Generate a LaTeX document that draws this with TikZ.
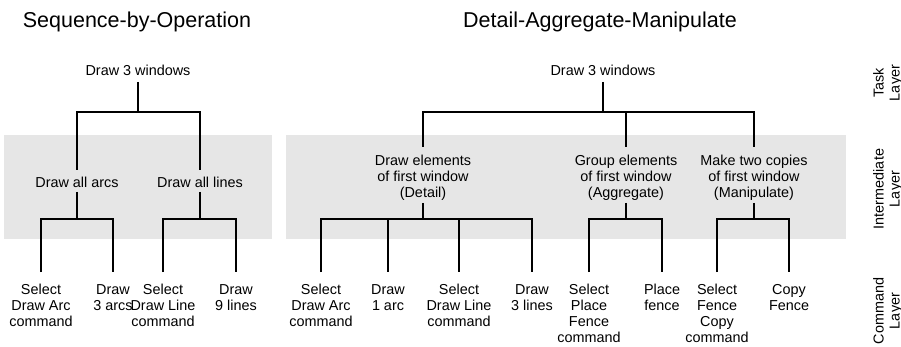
\documentclass[tikz,border=0pt]{standalone}
\usepackage{fontspec}
\setmainfont{Liberation Sans}
\definecolor{band}{HTML}{E6E6E6}
\begin{document}
\begin{tikzpicture}[x=1pt,y=-1pt,
  lbl/.style={font=\fontsize{14.4}{16}\selectfont, align=center, inner sep=0pt, anchor=north},
  ttl/.style={font=\fontsize{21.5}{25}\selectfont, inner sep=0pt, anchor=base},
  layerlbl/.style={font=\fontsize{14.4}{16}\selectfont, align=center, inner sep=0pt, rotate=90},
  conn/.style={line width=1.1pt, black}]
\useasboundingbox (0,0) rectangle (901,347);
% bands
\fill[band] (4,135) rectangle (272,239);
\fill[band] (286,135) rectangle (846,239);
% level coordinates
\coordinate (yA) at (0,82);
\coordinate (yB) at (0,112);
\coordinate (yC) at (0,170);
\coordinate (yC2) at (0,147);
\coordinate (yD) at (0,192);
\coordinate (yD2) at (0,203);
\coordinate (yE) at (0,219);
\coordinate (yF) at (0,272);
% titles
\node[ttl] (T1) at (137,27.5) {Sequence-by-Operation};
\node[ttl] (T2) at (600,27.5) {Detail-Aggregate-Manipulate};
% task layer
\node[lbl] (t1) at (138,65) {Draw 3 windows};
\node[lbl] (t2) at (603,65) {Draw 3 windows};
% intermediate
\node[lbl] (i1) at (77,177) {Draw all arcs};
\node[lbl] (i2) at (200,177) {Draw all lines};
\node[lbl] (i3) at (423,154.5) {Draw elements\\of first window\\(Detail)};
\node[lbl] (i4) at (626,154.5) {Group elements\\of first window\\(Aggregate)};
\node[lbl] (i5) at (754,154.5) {Make two copies\\of first window\\(Manipulate)};
% command layer
\node[lbl] (c1) at (41,284) {Select\\Draw Arc\\command};
\node[lbl] (c2) at (113,284) {Draw\\3 arcs};
\node[lbl] (c3) at (163,284) {Select\\Draw Line\\command};
\node[lbl] (c4) at (236,284) {Draw\\9 lines};
\node[lbl] (c5) at (321,284) {Select\\Draw Arc\\command};
\node[lbl] (c6) at (388,284) {Draw\\1 arc};
\node[lbl] (c7) at (459,284) {Select\\Draw Line\\command};
\node[lbl] (c8) at (532,284) {Draw\\3 lines};
\node[lbl] (c9) at (589,284) {Select\\Place\\Fence\\command};
\node[lbl] (c10) at (662,284) {Place\\fence};
\node[lbl] (c11) at (717,284) {Select\\Fence\\Copy\\command};
\node[lbl] (c12) at (789,284) {Copy\\Fence};
% layer labels
\node[layerlbl] (L1) at (888,83) {Task\\Layer};
\node[layerlbl] (L2) at (888,189) {Intermediate\\Layer};
\node[layerlbl] (L3) at (888,311) {Command\\Layer};
% connectors: left tree
\draw[conn] (t1 |- yA) -- (t1 |- yB);
\draw[conn] (i1 |- yC) |- (i2 |- yB) -- (i2 |- yC);
\draw[conn] (i1 |- yD) -- (i1 |- yE);
\draw[conn] (c1 |- yF) |- (c2 |- yE) -- (c2 |- yF);
\draw[conn] (i2 |- yD) -- (i2 |- yE);
\draw[conn] (c3 |- yF) |- (c4 |- yE) -- (c4 |- yF);
% connectors: right tree
\draw[conn] (t2 |- yA) -- (t2 |- yB);
\draw[conn] (i3 |- yC2) |- (i5 |- yB) -- (i5 |- yC2);
\draw[conn] (i4 |- yB) -- (i4 |- yC2);
\draw[conn] (i3 |- yD2) -- (i3 |- yE);
\draw[conn] (c5 |- yF) |- (c8 |- yE) -- (c8 |- yF);
\draw[conn] (c6 |- yE) -- (c6 |- yF);
\draw[conn] (c7 |- yE) -- (c7 |- yF);
\draw[conn] (i4 |- yD2) -- (i4 |- yE);
\draw[conn] (c9 |- yF) |- (c10 |- yE) -- (c10 |- yF);
\draw[conn] (i5 |- yD2) -- (i5 |- yE);
\draw[conn] (c11 |- yF) |- (c12 |- yE) -- (c12 |- yF);
\end{tikzpicture}
\end{document}
